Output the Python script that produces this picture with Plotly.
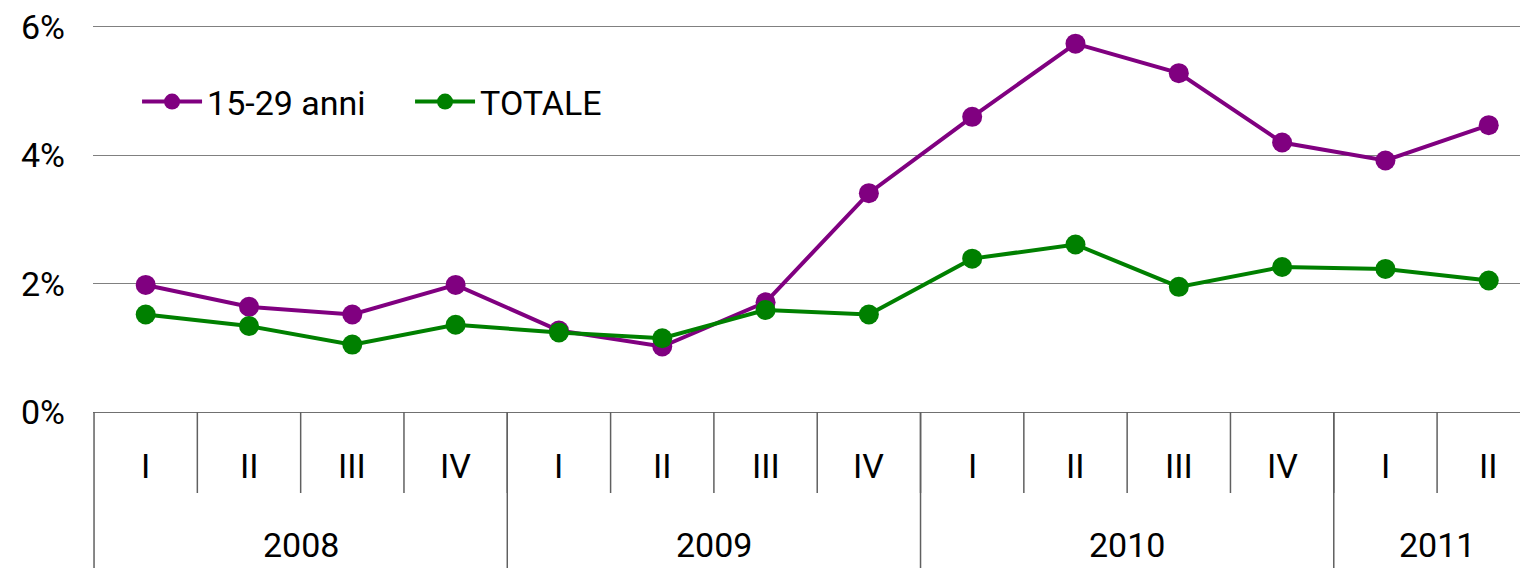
import plotly.graph_objects as go

quarters = ["I", "II", "III", "IV", "I", "II", "III", "IV", "I", "II", "III", "IV", "I", "II"]
years = ["2008", "2009", "2010", "2011"]
year_quarter_counts = [4, 4, 4, 2]
giovani = [1.98, 1.64, 1.52, 1.98, 1.27, 1.02, 1.71, 3.41, 4.60, 5.74, 5.28, 4.20, 3.92, 4.47]
totale = [1.52, 1.34, 1.05, 1.36, 1.24, 1.15, 1.59, 1.52, 2.39, 2.61, 1.95, 2.26, 2.23, 2.05]
y_ticks = [0, 2, 4, 6]
y_tick_labels = ["0%", "2%", "4%", "6%"]

FONT = "Roboto, Liberation Sans Narrow, sans-serif"
FS = 34
x = list(range(len(quarters)))

fig = go.Figure()
fig.add_trace(go.Scatter(x=x, y=giovani, name="15-29 anni", mode="lines+markers",
                         line=dict(color="#800080", width=4),
                         marker=dict(color="#800080", size=20), cliponaxis=False))
fig.add_trace(go.Scatter(x=x, y=totale, name="TOTALE", mode="lines+markers",
                         line=dict(color="#008000", width=4),
                         marker=dict(color="#008000", size=20), cliponaxis=False))

shapes = []
annotations = []
for i, q in enumerate(quarters):
    annotations.append(dict(x=i, y=-0.1392, xref="x", yref="paper", text=q, showarrow=False,
                            xanchor="center", yanchor="middle",
                            font=dict(family=FONT, size=FS, color="black")))
    if i > 0:
        shapes.append(dict(type="line", xref="x", yref="paper", x0=i - 0.5, x1=i - 0.5,
                           y0=0, y1=-0.2088, line=dict(color="#606060", width=1.5)))
start = 0
for yr, n in zip(years, year_quarter_counts):
    shapes.append(dict(type="line", xref="x", yref="paper", x0=start - 0.5, x1=start - 0.5,
                       y0=0, y1=-0.42, line=dict(color="#606060", width=1.5)))
    annotations.append(dict(x=start + (n - 1) / 2, y=-0.3428, xref="x", yref="paper", text=yr,
                            showarrow=False, xanchor="center", yanchor="middle",
                            font=dict(family=FONT, size=FS, color="black")))
    start += n

fig.update_layout(
    width=1520, height=560,
    margin=dict(l=85, r=0, t=16, b=156),
    paper_bgcolor="white", plot_bgcolor="white",
    font=dict(family=FONT, size=FS, color="black"),
    showlegend=True,
    legend=dict(orientation="h", x=0.0307, y=0.799, xanchor="left", yanchor="middle",
                font=dict(family=FONT, size=FS, color="black"),
                bgcolor="rgba(0,0,0,0)", itemwidth=60,
                entrywidth=198, entrywidthmode="pixels"),
    shapes=shapes, annotations=annotations,
    xaxis=dict(range=[-0.51, 13.38], showticklabels=False, showgrid=False, zeroline=False,
               showline=True, linecolor="#707070", linewidth=1, ticks="", automargin=False),
    yaxis=dict(range=[0, 6.0465], tickvals=y_ticks, ticktext=y_tick_labels, showgrid=True,
               gridcolor="#808080", gridwidth=1, zeroline=False, showline=False,
               automargin=False, ticklabeloverflow="allow",
               ticklabelstandoff=27, tickfont=dict(family=FONT, size=FS, color="black")),
)
fig.write_html("out.html")
